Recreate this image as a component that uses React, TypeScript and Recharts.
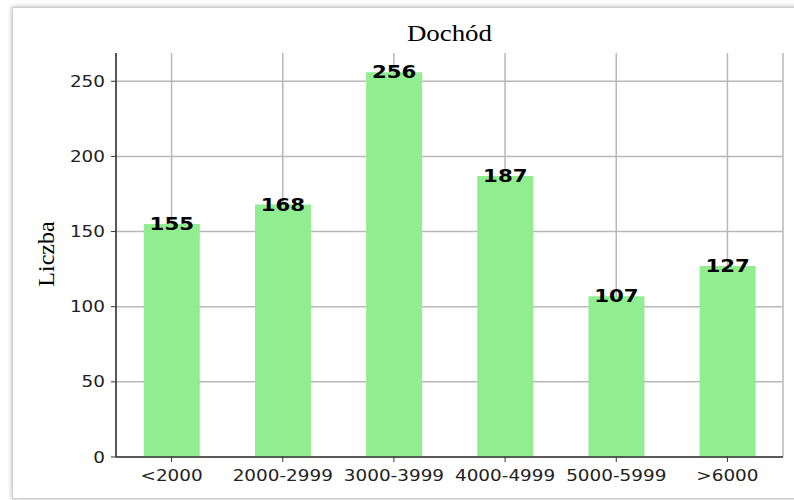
import React from "react";
import {
  BarChart,
  Bar,
  XAxis,
  YAxis,
  CartesianGrid,
  LabelList,
  Label,
} from "recharts";

const categories = ["<2000", "2000-2999", "3000-3999", "4000-4999", "5000-5999", ">6000"];
const counts = [155, 168, 256, 187, 107, 127];
const yTicks = [0, 50, 100, 150, 200, 250];

const data = categories.map((c, i) => ({ name: c, value: counts[i] }));

const TICK_FONT = "'DejaVu Sans', sans-serif";
const SERIF = "'Liberation Serif', 'Times New Roman', serif";

const XTick = (props: any) => {
  const { x, y, payload } = props;
  return (
    <text
      x={0}
      y={0}
      transform={`translate(${x},${y + 17}) scale(1.15,1)`}
      textAnchor="middle"
      fontFamily={TICK_FONT}
      fontSize={16}
      fill="#222"
    >
      {payload.value}
    </text>
  );
};

const YTick = (props: any) => {
  const { x, y, payload } = props;
  return (
    <text
      x={0}
      y={0}
      transform={`translate(${x - 4},${y}) scale(1.15,1)`}
      textAnchor="end"
      dominantBaseline="central"
      fontFamily={TICK_FONT}
      fontSize={16}
      fill="#222"
    >
      {payload.value}
    </text>
  );
};

const BarValue = (props: any) => {
  const { x, y, width, value } = props;
  return (
    <text
      x={0}
      y={0}
      transform={`translate(${x + width / 2},${y}) scale(1.15,1)`}
      textAnchor="middle"
      dominantBaseline="central"
      fontFamily={TICK_FONT}
      fontWeight="bold"
      fontSize={18.5}
      fill="#000"
    >
      {value}
    </text>
  );
};

const YLabel = () => (
  <text
    x={0}
    y={0}
    transform="translate(46,254) rotate(-90)"
    textAnchor="middle"
    dominantBaseline="central"
    fontFamily={SERIF}
    fontSize={24}
    fill="#000"
  >
    Liczba
  </text>
);

export default function App() {
  return (
    <div
      style={{
        position: "absolute",
        left: 0,
        top: 0,
        width: 794,
        height: 500,
        background: "#fff",
        overflow: "hidden",
      }}
    >
      <div
        style={{
          position: "absolute",
          left: 12,
          top: 7,
          width: 800,
          height: 490,
          border: "1px solid #cfcfcf",
          boxShadow: "0 0 5px rgba(0,0,0,0.3)",
          background: "#fff",
        }}
      />
      <div
        style={{
          position: "absolute",
          left: 0,
          top: 20,
          width: 899,
          textAlign: "center",
          fontFamily: SERIF,
          fontSize: 24,
          color: "#000",
          transform: "scaleX(1.12)",
          transformOrigin: "450px 0",
        }}
      >
        Dochód
      </div>
      <div style={{ position: "absolute", left: 0, top: 0 }}>
        <BarChart
          width={794}
          height={500}
          data={data}
          margin={{ top: 53, right: 11, bottom: 0, left: 0 }}
          barCategoryGap="25%"
        >
          <XAxis
            dataKey="name"
            xAxisId="bottom"
            height={43}
            tick={<XTick />}
            tickSize={5}
            tickLine={{ stroke: "#333" }}
            axisLine={{ stroke: "#333", strokeWidth: 1.5 }}
            interval={0}
          />
          <XAxis
            dataKey="name"
            xAxisId="top"
            orientation="top"
            height={0}
            tick={false}
            tickLine={false}
            axisLine={{ stroke: "#333", strokeWidth: 1.5 }}
          />
          <YAxis
            yAxisId="left"
            width={116}
            domain={[0, 268.8]}
            ticks={yTicks}
            tick={<YTick />}
            tickSize={5}
            tickLine={{ stroke: "#333" }}
            axisLine={{ stroke: "#333", strokeWidth: 1.5 }}
            allowDataOverflow
          >
            <Label content={<YLabel />} />
          </YAxis>
          <YAxis
            yAxisId="right"
            orientation="right"
            width={0}
            domain={[0, 268.8]}
            tick={false}
            tickLine={false}
            axisLine={{ stroke: "#333", strokeWidth: 1.5 }}
          />
          <Bar
            dataKey="value"
            xAxisId="bottom"
            yAxisId="left"
            fill="#90ee90"
            isAnimationActive={false}
          >
            <LabelList dataKey="value" content={<BarValue />} />
          </Bar>
          <CartesianGrid
            xAxisId="bottom"
            yAxisId="left"
            stroke="#b8b8b8"
            strokeWidth={1.5}
            horizontalValues={yTicks}
          />
        </BarChart>
      </div>
    </div>
  );
}
